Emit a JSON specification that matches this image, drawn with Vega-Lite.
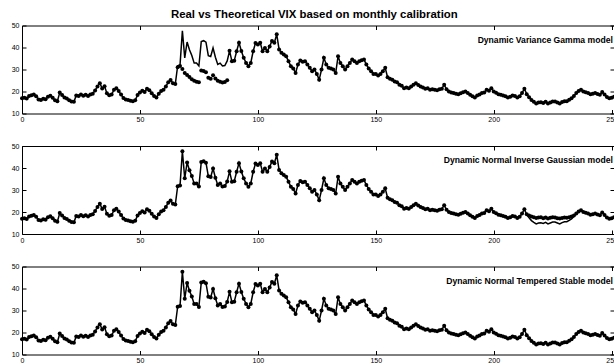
{
"$schema": "https://vega.github.io/schema/vega-lite/v6.json",
"padding": {"left": 10, "top": 8.5, "right": 0, "bottom": 0},
"title": {"text": "Real vs Theoretical VIX based on monthly calibration", "font": "Liberation Sans", "fontSize": 11.4, "fontWeight": "bold", "color": "black", "offset": 0.6, "anchor": "middle"},
"data": {"values": [
{"t":0,"real":16.9,"vg":16.9,"nig":16.9,"nts":16.9},
{"t":1,"real":17.2,"vg":17.2,"nig":17.2,"nts":17.2},
{"t":2,"real":16.8,"vg":16.8,"nig":16.8,"nts":16.8},
{"t":3,"real":17.9,"vg":17.9,"nig":17.9,"nts":17.9},
{"t":4,"real":18.3,"vg":18.3,"nig":18.3,"nts":18.3},
{"t":5,"real":18.6,"vg":18.6,"nig":18.6,"nts":18.6},
{"t":6,"real":17.8,"vg":17.8,"nig":17.8,"nts":17.8},
{"t":7,"real":16.4,"vg":16.4,"nig":16.4,"nts":16.4},
{"t":8,"real":16.1,"vg":16.1,"nig":16.1,"nts":16.1},
{"t":9,"real":16.7,"vg":16.7,"nig":16.7,"nts":16.7},
{"t":10,"real":16.5,"vg":16.5,"nig":16.5,"nts":16.5},
{"t":11,"real":17.6,"vg":17.6,"nig":17.6,"nts":17.6},
{"t":12,"real":18.1,"vg":18.1,"nig":18.1,"nts":18.1},
{"t":13,"real":17.2,"vg":17.2,"nig":17.2,"nts":17.2},
{"t":14,"real":16.0,"vg":16.0,"nig":16.0,"nts":16.0},
{"t":15,"real":15.6,"vg":15.6,"nig":15.6,"nts":15.6},
{"t":16,"real":19.5,"vg":19.5,"nig":19.5,"nts":19.5},
{"t":17,"real":18.4,"vg":18.4,"nig":18.4,"nts":18.4},
{"t":18,"real":17.3,"vg":17.3,"nig":17.3,"nts":17.3},
{"t":19,"real":16.8,"vg":16.8,"nig":16.8,"nts":16.8},
{"t":20,"real":16.0,"vg":16.0,"nig":16.0,"nts":16.0},
{"t":21,"real":15.5,"vg":15.5,"nig":15.5,"nts":15.5},
{"t":22,"real":15.3,"vg":15.3,"nig":15.3,"nts":15.3},
{"t":23,"real":18.2,"vg":18.2,"nig":18.2,"nts":18.2},
{"t":24,"real":18.0,"vg":18.0,"nig":18.0,"nts":18.0},
{"t":25,"real":18.6,"vg":18.6,"nig":18.6,"nts":18.6},
{"t":26,"real":18.1,"vg":18.1,"nig":18.1,"nts":18.1},
{"t":27,"real":18.5,"vg":18.5,"nig":18.5,"nts":18.5},
{"t":28,"real":17.9,"vg":17.9,"nig":17.9,"nts":17.9},
{"t":29,"real":18.6,"vg":18.6,"nig":18.6,"nts":18.6},
{"t":30,"real":19.0,"vg":19.0,"nig":19.0,"nts":19.0},
{"t":31,"real":20.5,"vg":20.5,"nig":20.5,"nts":20.5},
{"t":32,"real":22.3,"vg":22.3,"nig":22.3,"nts":22.3},
{"t":33,"real":23.8,"vg":23.8,"nig":23.8,"nts":23.8},
{"t":34,"real":21.4,"vg":21.4,"nig":21.4,"nts":21.4},
{"t":35,"real":22.4,"vg":22.4,"nig":22.4,"nts":22.4},
{"t":36,"real":19.2,"vg":19.2,"nig":19.2,"nts":19.2},
{"t":37,"real":18.3,"vg":18.3,"nig":18.3,"nts":18.3},
{"t":38,"real":18.6,"vg":18.6,"nig":18.6,"nts":18.6},
{"t":39,"real":20.8,"vg":20.8,"nig":20.8,"nts":20.8},
{"t":40,"real":21.5,"vg":21.5,"nig":21.5,"nts":21.5},
{"t":41,"real":20.2,"vg":20.2,"nig":20.2,"nts":20.2},
{"t":42,"real":18.6,"vg":18.6,"nig":18.6,"nts":18.6},
{"t":43,"real":17.1,"vg":17.1,"nig":17.1,"nts":17.1},
{"t":44,"real":16.4,"vg":16.4,"nig":16.4,"nts":16.4},
{"t":45,"real":16.1,"vg":16.1,"nig":16.1,"nts":16.1},
{"t":46,"real":15.8,"vg":15.8,"nig":15.8,"nts":15.8},
{"t":47,"real":15.6,"vg":15.6,"nig":15.6,"nts":15.6},
{"t":48,"real":16.0,"vg":16.0,"nig":16.0,"nts":16.0},
{"t":49,"real":18.4,"vg":18.4,"nig":18.4,"nts":18.4},
{"t":50,"real":19.5,"vg":19.5,"nig":19.5,"nts":19.5},
{"t":51,"real":20.3,"vg":20.3,"nig":20.3,"nts":20.3},
{"t":52,"real":19.8,"vg":19.8,"nig":19.8,"nts":19.8},
{"t":53,"real":21.3,"vg":21.3,"nig":21.3,"nts":21.3},
{"t":54,"real":20.6,"vg":20.6,"nig":20.6,"nts":20.6},
{"t":55,"real":19.2,"vg":19.2,"nig":19.2,"nts":19.2},
{"t":56,"real":17.9,"vg":17.9,"nig":17.9,"nts":17.9},
{"t":57,"real":17.3,"vg":17.3,"nig":17.3,"nts":17.3},
{"t":58,"real":19.0,"vg":19.0,"nig":19.0,"nts":19.0},
{"t":59,"real":20.2,"vg":20.2,"nig":20.2,"nts":20.2},
{"t":60,"real":20.8,"vg":20.8,"nig":20.8,"nts":20.8},
{"t":61,"real":22.3,"vg":22.3,"nig":22.3,"nts":22.3},
{"t":62,"real":24.2,"vg":24.2,"nig":24.2,"nts":24.2},
{"t":63,"real":25.2,"vg":25.2,"nig":25.2,"nts":25.2},
{"t":64,"real":23.8,"vg":23.8,"nig":23.8,"nts":23.8},
{"t":65,"real":23.4,"vg":23.4,"nig":23.4,"nts":23.4},
{"t":66,"real":31.7,"vg":31.0,"nig":31.7,"nts":31.7},
{"t":67,"real":32.0,"vg":31.6,"nig":32.0,"nts":32.0},
{"t":68,"real":47.6,"vg":30.2,"nig":47.6,"nts":47.6},
{"t":69,"real":35.3,"vg":28.4,"nig":35.3,"nts":35.3},
{"t":70,"real":42.5,"vg":27.5,"nig":42.5,"nts":42.5},
{"t":71,"real":39.0,"vg":26.6,"nig":39.0,"nts":39.0},
{"t":72,"real":36.4,"vg":25.6,"nig":36.4,"nts":36.4},
{"t":73,"real":32.9,"vg":24.9,"nig":32.9,"nts":32.9},
{"t":74,"real":32.9,"vg":24.4,"nig":32.9,"nts":32.9},
{"t":75,"real":31.6,"vg":24.2,"nig":31.6,"nts":31.6},
{"t":76,"real":42.7,"vg":29.5,"nig":42.7,"nts":42.7},
{"t":77,"real":43.1,"vg":29.3,"nig":43.1,"nts":43.1},
{"t":78,"real":42.4,"vg":28.8,"nig":42.4,"nts":42.4},
{"t":79,"real":36.3,"vg":26.2,"nig":36.3,"nts":36.3},
{"t":80,"real":35.9,"vg":25.8,"nig":35.9,"nts":35.9},
{"t":81,"real":39.8,"vg":27.4,"nig":39.8,"nts":39.8},
{"t":82,"real":35.6,"vg":25.9,"nig":35.6,"nts":35.6},
{"t":83,"real":32.3,"vg":24.9,"nig":32.3,"nts":32.3},
{"t":84,"real":32.9,"vg":24.4,"nig":32.9,"nts":32.9},
{"t":85,"real":31.6,"vg":24.1,"nig":31.6,"nts":31.6},
{"t":86,"real":31.8,"vg":24.3,"nig":31.8,"nts":31.8},
{"t":87,"real":33.9,"vg":25.1,"nig":33.9,"nts":33.9},
{"t":88,"real":38.5,"vg":38.5,"nig":38.5,"nts":38.5},
{"t":89,"real":33.8,"vg":33.8,"nig":33.8,"nts":33.8},
{"t":90,"real":34.0,"vg":34.0,"nig":34.0,"nts":34.0},
{"t":91,"real":38.3,"vg":38.3,"nig":38.3,"nts":38.3},
{"t":92,"real":42.2,"vg":42.2,"nig":42.2,"nts":42.2},
{"t":93,"real":38.4,"vg":38.4,"nig":38.4,"nts":38.4},
{"t":94,"real":35.3,"vg":35.3,"nig":35.3,"nts":35.3},
{"t":95,"real":33.0,"vg":33.0,"nig":33.0,"nts":33.0},
{"t":96,"real":31.5,"vg":31.5,"nig":31.5,"nts":31.5},
{"t":97,"real":33.0,"vg":33.0,"nig":33.0,"nts":33.0},
{"t":98,"real":38.3,"vg":38.3,"nig":38.3,"nts":38.3},
{"t":99,"real":42.0,"vg":42.0,"nig":42.0,"nts":42.0},
{"t":100,"real":41.4,"vg":41.4,"nig":41.4,"nts":41.4},
{"t":101,"real":42.2,"vg":42.2,"nig":42.2,"nts":42.2},
{"t":102,"real":38.3,"vg":38.3,"nig":38.3,"nts":38.3},
{"t":103,"real":39.8,"vg":39.8,"nig":39.8,"nts":39.8},
{"t":104,"real":38.3,"vg":38.3,"nig":38.3,"nts":38.3},
{"t":105,"real":40.5,"vg":40.5,"nig":40.5,"nts":40.5},
{"t":106,"real":43.0,"vg":43.0,"nig":43.0,"nts":43.0},
{"t":107,"real":42.2,"vg":42.2,"nig":42.2,"nts":42.2},
{"t":108,"real":46.0,"vg":46.0,"nig":46.0,"nts":46.0},
{"t":109,"real":39.1,"vg":39.1,"nig":39.1,"nts":39.1},
{"t":110,"real":37.6,"vg":37.6,"nig":37.6,"nts":37.6},
{"t":111,"real":36.8,"vg":36.8,"nig":36.8,"nts":36.8},
{"t":112,"real":36.0,"vg":36.0,"nig":36.0,"nts":36.0},
{"t":113,"real":33.8,"vg":33.8,"nig":33.8,"nts":33.8},
{"t":114,"real":31.5,"vg":31.5,"nig":31.5,"nts":31.5},
{"t":115,"real":30.5,"vg":30.5,"nig":30.5,"nts":30.5},
{"t":116,"real":28.4,"vg":28.4,"nig":28.4,"nts":28.4},
{"t":117,"real":32.3,"vg":32.3,"nig":32.3,"nts":32.3},
{"t":118,"real":34.1,"vg":34.1,"nig":34.1,"nts":34.1},
{"t":119,"real":33.5,"vg":33.5,"nig":33.5,"nts":33.5},
{"t":120,"real":33.8,"vg":33.8,"nig":33.8,"nts":33.8},
{"t":121,"real":32.3,"vg":32.3,"nig":32.3,"nts":32.3},
{"t":122,"real":30.8,"vg":30.8,"nig":30.8,"nts":30.8},
{"t":123,"real":29.2,"vg":29.2,"nig":29.2,"nts":29.2},
{"t":124,"real":30.0,"vg":30.0,"nig":30.0,"nts":30.0},
{"t":125,"real":28.0,"vg":28.0,"nig":28.0,"nts":28.0},
{"t":126,"real":25.3,"vg":25.3,"nig":25.3,"nts":25.3},
{"t":127,"real":30.0,"vg":30.0,"nig":30.0,"nts":30.0},
{"t":128,"real":35.3,"vg":35.3,"nig":35.3,"nts":35.3},
{"t":129,"real":32.3,"vg":32.3,"nig":32.3,"nts":32.3},
{"t":130,"real":30.8,"vg":30.8,"nig":30.8,"nts":30.8},
{"t":131,"real":30.5,"vg":30.5,"nig":30.5,"nts":30.5},
{"t":132,"real":30.0,"vg":30.0,"nig":30.0,"nts":30.0},
{"t":133,"real":28.4,"vg":28.4,"nig":28.4,"nts":28.4},
{"t":134,"real":36.0,"vg":36.0,"nig":36.0,"nts":36.0},
{"t":135,"real":33.0,"vg":33.0,"nig":33.0,"nts":33.0},
{"t":136,"real":31.5,"vg":31.5,"nig":31.5,"nts":31.5},
{"t":137,"real":30.0,"vg":30.0,"nig":30.0,"nts":30.0},
{"t":138,"real":31.5,"vg":31.5,"nig":31.5,"nts":31.5},
{"t":139,"real":33.0,"vg":33.0,"nig":33.0,"nts":33.0},
{"t":140,"real":34.5,"vg":34.5,"nig":34.5,"nts":34.5},
{"t":141,"real":33.8,"vg":33.8,"nig":33.8,"nts":33.8},
{"t":142,"real":33.0,"vg":33.0,"nig":33.0,"nts":33.0},
{"t":143,"real":33.8,"vg":33.8,"nig":33.8,"nts":33.8},
{"t":144,"real":34.2,"vg":34.2,"nig":34.2,"nts":34.2},
{"t":145,"real":34.5,"vg":34.5,"nig":34.5,"nts":34.5},
{"t":146,"real":32.3,"vg":32.3,"nig":32.3,"nts":32.3},
{"t":147,"real":30.5,"vg":30.5,"nig":30.5,"nts":30.5},
{"t":148,"real":29.2,"vg":29.2,"nig":29.2,"nts":29.2},
{"t":149,"real":28.0,"vg":28.0,"nig":28.0,"nts":28.0},
{"t":150,"real":27.9,"vg":27.9,"nig":27.9,"nts":27.9},
{"t":151,"real":27.3,"vg":27.3,"nig":27.3,"nts":27.3},
{"t":152,"real":28.0,"vg":28.0,"nig":28.0,"nts":28.0},
{"t":153,"real":29.2,"vg":29.2,"nig":29.2,"nts":29.2},
{"t":154,"real":30.8,"vg":30.8,"nig":30.8,"nts":30.8},
{"t":155,"real":26.5,"vg":26.5,"nig":26.5,"nts":26.5},
{"t":156,"real":25.8,"vg":25.8,"nig":25.8,"nts":25.8},
{"t":157,"real":25.3,"vg":25.3,"nig":25.3,"nts":25.3},
{"t":158,"real":24.6,"vg":24.6,"nig":24.6,"nts":24.6},
{"t":159,"real":24.2,"vg":24.2,"nig":24.2,"nts":24.2},
{"t":160,"real":23.1,"vg":23.1,"nig":23.1,"nts":23.1},
{"t":161,"real":22.6,"vg":22.6,"nig":22.6,"nts":22.6},
{"t":162,"real":21.5,"vg":21.5,"nig":21.5,"nts":21.5},
{"t":163,"real":21.8,"vg":21.8,"nig":21.8,"nts":21.8},
{"t":164,"real":21.5,"vg":21.5,"nig":21.5,"nts":21.5},
{"t":165,"real":22.3,"vg":22.3,"nig":22.3,"nts":22.3},
{"t":166,"real":23.1,"vg":23.1,"nig":23.1,"nts":23.1},
{"t":167,"real":23.8,"vg":23.8,"nig":23.8,"nts":23.8},
{"t":168,"real":23.0,"vg":23.0,"nig":23.0,"nts":23.0},
{"t":169,"real":22.3,"vg":22.3,"nig":22.3,"nts":22.3},
{"t":170,"real":21.8,"vg":21.8,"nig":21.8,"nts":21.8},
{"t":171,"real":21.3,"vg":21.3,"nig":21.3,"nts":21.3},
{"t":172,"real":21.5,"vg":21.5,"nig":21.5,"nts":21.5},
{"t":173,"real":20.8,"vg":20.8,"nig":20.8,"nts":20.8},
{"t":174,"real":21.0,"vg":21.0,"nig":21.0,"nts":21.0},
{"t":175,"real":20.8,"vg":20.8,"nig":20.8,"nts":20.8},
{"t":176,"real":20.6,"vg":20.6,"nig":20.6,"nts":20.6},
{"t":177,"real":21.0,"vg":21.0,"nig":21.0,"nts":21.0},
{"t":178,"real":21.3,"vg":21.3,"nig":21.3,"nts":21.3},
{"t":179,"real":23.1,"vg":23.1,"nig":23.1,"nts":23.1},
{"t":180,"real":21.0,"vg":21.0,"nig":21.0,"nts":21.0},
{"t":181,"real":20.0,"vg":20.0,"nig":20.0,"nts":20.0},
{"t":182,"real":19.6,"vg":19.6,"nig":19.6,"nts":19.6},
{"t":183,"real":19.3,"vg":19.3,"nig":19.3,"nts":19.3},
{"t":184,"real":19.0,"vg":19.0,"nig":19.0,"nts":19.0},
{"t":185,"real":18.8,"vg":18.8,"nig":18.8,"nts":18.8},
{"t":186,"real":19.2,"vg":19.2,"nig":19.2,"nts":19.2},
{"t":187,"real":19.7,"vg":19.7,"nig":19.7,"nts":19.7},
{"t":188,"real":20.0,"vg":20.0,"nig":20.0,"nts":20.0},
{"t":189,"real":19.3,"vg":19.3,"nig":19.3,"nts":19.3},
{"t":190,"real":18.5,"vg":18.5,"nig":18.5,"nts":18.5},
{"t":191,"real":17.8,"vg":17.8,"nig":17.8,"nts":17.8},
{"t":192,"real":17.3,"vg":17.3,"nig":17.3,"nts":17.3},
{"t":193,"real":18.2,"vg":18.2,"nig":18.2,"nts":18.2},
{"t":194,"real":18.6,"vg":18.6,"nig":18.6,"nts":18.6},
{"t":195,"real":19.3,"vg":19.3,"nig":19.3,"nts":19.3},
{"t":196,"real":19.6,"vg":19.6,"nig":19.6,"nts":19.6},
{"t":197,"real":20.8,"vg":20.8,"nig":20.8,"nts":20.8},
{"t":198,"real":20.3,"vg":20.3,"nig":20.3,"nts":20.3},
{"t":199,"real":21.5,"vg":21.5,"nig":21.5,"nts":21.5},
{"t":200,"real":20.0,"vg":20.0,"nig":20.0,"nts":20.0},
{"t":201,"real":19.4,"vg":19.4,"nig":19.4,"nts":19.4},
{"t":202,"real":18.8,"vg":18.8,"nig":18.8,"nts":18.8},
{"t":203,"real":18.5,"vg":18.5,"nig":18.5,"nts":18.5},
{"t":204,"real":18.2,"vg":18.2,"nig":18.2,"nts":18.2},
{"t":205,"real":17.8,"vg":17.8,"nig":17.8,"nts":17.8},
{"t":206,"real":17.3,"vg":17.3,"nig":17.3,"nts":17.3},
{"t":207,"real":17.6,"vg":17.6,"nig":17.6,"nts":17.6},
{"t":208,"real":18.2,"vg":18.2,"nig":18.2,"nts":18.2},
{"t":209,"real":17.9,"vg":17.9,"nig":17.9,"nts":17.9},
{"t":210,"real":17.3,"vg":17.3,"nig":17.3,"nts":17.3},
{"t":211,"real":17.8,"vg":17.8,"nig":17.8,"nts":17.8},
{"t":212,"real":19.3,"vg":19.3,"nig":19.3,"nts":19.3},
{"t":213,"real":21.3,"vg":21.3,"nig":21.3,"nts":21.3},
{"t":214,"real":18.8,"vg":18.8,"nig":19.0,"nts":18.8},
{"t":215,"real":17.4,"vg":17.4,"nig":18.4,"nts":17.4},
{"t":216,"real":16.1,"vg":16.1,"nig":17.9,"nts":16.1},
{"t":217,"real":15.3,"vg":15.3,"nig":17.6,"nts":15.3},
{"t":218,"real":14.6,"vg":14.6,"nig":17.3,"nts":14.6},
{"t":219,"real":15.0,"vg":15.0,"nig":17.5,"nts":15.0},
{"t":220,"real":15.1,"vg":15.1,"nig":17.6,"nts":15.1},
{"t":221,"real":14.8,"vg":14.8,"nig":17.2,"nts":14.8},
{"t":222,"real":15.3,"vg":15.3,"nig":17.5,"nts":15.3},
{"t":223,"real":14.6,"vg":14.6,"nig":17.1,"nts":14.6},
{"t":224,"real":15.0,"vg":15.0,"nig":17.4,"nts":15.0},
{"t":225,"real":15.4,"vg":15.4,"nig":17.6,"nts":15.4},
{"t":226,"real":15.4,"vg":15.4,"nig":17.5,"nts":15.4},
{"t":227,"real":15.0,"vg":15.0,"nig":17.2,"nts":15.0},
{"t":228,"real":14.6,"vg":14.6,"nig":17.0,"nts":14.6},
{"t":229,"real":15.2,"vg":15.2,"nig":17.3,"nts":15.2},
{"t":230,"real":15.6,"vg":15.6,"nig":17.5,"nts":15.6},
{"t":231,"real":15.6,"vg":15.6,"nig":17.4,"nts":15.6},
{"t":232,"real":16.2,"vg":16.2,"nig":17.6,"nts":16.2},
{"t":233,"real":16.9,"vg":16.9,"nig":17.9,"nts":16.9},
{"t":234,"real":18.0,"vg":18.0,"nig":18.4,"nts":18.0},
{"t":235,"real":19.3,"vg":19.3,"nig":19.3,"nts":19.3},
{"t":236,"real":20.2,"vg":20.2,"nig":20.2,"nts":20.2},
{"t":237,"real":20.8,"vg":20.8,"nig":20.8,"nts":20.8},
{"t":238,"real":20.0,"vg":20.0,"nig":20.0,"nts":20.0},
{"t":239,"real":19.7,"vg":19.7,"nig":19.7,"nts":19.7},
{"t":240,"real":19.3,"vg":19.3,"nig":19.3,"nts":19.3},
{"t":241,"real":18.8,"vg":18.8,"nig":18.8,"nts":18.8},
{"t":242,"real":19.0,"vg":19.0,"nig":19.0,"nts":19.0},
{"t":243,"real":19.3,"vg":19.3,"nig":19.3,"nts":19.3},
{"t":244,"real":18.9,"vg":18.9,"nig":18.9,"nts":18.9},
{"t":245,"real":18.5,"vg":18.5,"nig":18.5,"nts":18.5},
{"t":246,"real":19.8,"vg":19.8,"nig":19.8,"nts":19.8},
{"t":247,"real":18.6,"vg":18.6,"nig":18.6,"nts":18.6},
{"t":248,"real":17.5,"vg":17.5,"nig":17.5,"nts":17.5},
{"t":249,"real":16.9,"vg":16.9,"nig":16.9,"nts":16.9},
{"t":250,"real":17.2,"vg":17.2,"nig":17.2,"nts":17.2},
{"t":251,"real":17.6,"vg":17.6,"nig":17.6,"nts":17.6}
]},
"spacing": 17.5,
"vconcat": [
{"width": 592, "height": 88, "layer": [
 {"mark": {"type": "line", "color": "black", "strokeWidth": 1.5}, "encoding": {
   "x": {"field": "t", "type": "quantitative", "scale": {"domain": [0, 251], "nice": false, "zero": false}, "axis": {"orient": "bottom", "title": null, "values": [0, 50, 100, 150, 200, 250], "labelFlush": false, "labelOverlap": false, "tickSize": -4, "labelPadding": 6}},
   "y": {"field": "real", "type": "quantitative", "scale": {"domain": [10, 50], "nice": false, "zero": false}, "axis": {"orient": "left", "title": null, "values": [10, 20, 30, 40, 50], "labelOverlap": false, "tickSize": -4, "labelPadding": 7}}}},
 {"mark": {"type": "point", "filled": true, "color": "black", "size": 16, "opacity": 1}, "encoding": {
   "x": {"field": "t", "type": "quantitative", "scale": {"domain": [0, 251], "nice": false, "zero": false}, "axis": {"orient": "top", "title": null, "labels": false, "values": [0, 50, 100, 150, 200, 250], "tickSize": -4}},
   "y": {"field": "vg", "type": "quantitative", "scale": {"domain": [10, 50], "nice": false, "zero": false}, "axis": {"orient": "right", "title": null, "labels": false, "values": [10, 20, 30, 40, 50], "tickSize": -4}}}},
 {"data": {"values": [{"label": "Dynamic Variance Gamma model"}]}, "mark": {"type": "text", "align": "right", "baseline": "middle", "font": "Liberation Sans", "fontWeight": "bold", "fontSize": 8.6, "color": "black"}, "encoding": {
   "x": {"datum": 250.5, "type": "quantitative", "axis": null},
   "y": {"datum": 43.6, "type": "quantitative", "axis": null},
   "text": {"field": "label"}}}
]},
{"width": 592, "height": 88, "layer": [
 {"mark": {"type": "line", "color": "black", "strokeWidth": 1.5}, "encoding": {
   "x": {"field": "t", "type": "quantitative", "scale": {"domain": [0, 251], "nice": false, "zero": false}, "axis": {"orient": "bottom", "title": null, "values": [0, 50, 100, 150, 200, 250], "labelFlush": false, "labelOverlap": false, "tickSize": -4, "labelPadding": 6}},
   "y": {"field": "real", "type": "quantitative", "scale": {"domain": [10, 50], "nice": false, "zero": false}, "axis": {"orient": "left", "title": null, "values": [10, 20, 30, 40, 50], "labelOverlap": false, "tickSize": -4, "labelPadding": 7}}}},
 {"mark": {"type": "point", "filled": true, "color": "black", "size": 16, "opacity": 1}, "encoding": {
   "x": {"field": "t", "type": "quantitative", "scale": {"domain": [0, 251], "nice": false, "zero": false}, "axis": {"orient": "top", "title": null, "labels": false, "values": [0, 50, 100, 150, 200, 250], "tickSize": -4}},
   "y": {"field": "nig", "type": "quantitative", "scale": {"domain": [10, 50], "nice": false, "zero": false}, "axis": {"orient": "right", "title": null, "labels": false, "values": [10, 20, 30, 40, 50], "tickSize": -4}}}},
 {"data": {"values": [{"label": "Dynamic Normal Inverse Gaussian model"}]}, "mark": {"type": "text", "align": "right", "baseline": "middle", "font": "Liberation Sans", "fontWeight": "bold", "fontSize": 8.6, "color": "black"}, "encoding": {
   "x": {"datum": 250.5, "type": "quantitative", "axis": null},
   "y": {"datum": 43.6, "type": "quantitative", "axis": null},
   "text": {"field": "label"}}}
]},
{"width": 592, "height": 88, "layer": [
 {"mark": {"type": "line", "color": "black", "strokeWidth": 1.5}, "encoding": {
   "x": {"field": "t", "type": "quantitative", "scale": {"domain": [0, 251], "nice": false, "zero": false}, "axis": {"orient": "bottom", "title": null, "values": [0, 50, 100, 150, 200, 250], "labelFlush": false, "labelOverlap": false, "tickSize": -4, "labelPadding": 6}},
   "y": {"field": "real", "type": "quantitative", "scale": {"domain": [10, 50], "nice": false, "zero": false}, "axis": {"orient": "left", "title": null, "values": [10, 20, 30, 40, 50], "labelOverlap": false, "tickSize": -4, "labelPadding": 7}}}},
 {"mark": {"type": "point", "filled": true, "color": "black", "size": 16, "opacity": 1}, "encoding": {
   "x": {"field": "t", "type": "quantitative", "scale": {"domain": [0, 251], "nice": false, "zero": false}, "axis": {"orient": "top", "title": null, "labels": false, "values": [0, 50, 100, 150, 200, 250], "tickSize": -4}},
   "y": {"field": "nts", "type": "quantitative", "scale": {"domain": [10, 50], "nice": false, "zero": false}, "axis": {"orient": "right", "title": null, "labels": false, "values": [10, 20, 30, 40, 50], "tickSize": -4}}}},
 {"data": {"values": [{"label": "Dynamic Normal Tempered Stable model"}]}, "mark": {"type": "text", "align": "right", "baseline": "middle", "font": "Liberation Sans", "fontWeight": "bold", "fontSize": 8.6, "color": "black"}, "encoding": {
   "x": {"datum": 250.5, "type": "quantitative", "axis": null},
   "y": {"datum": 43.6, "type": "quantitative", "axis": null},
   "text": {"field": "label"}}}
]}
],
"config": {
 "background": "white",
 "view": {"stroke": "black", "strokeWidth": 1},
 "axis": {"domain": false, "grid": false, "labelFont": "Liberation Sans", "labelFontSize": 7, "labelColor": "black", "tickColor": "black", "tickWidth": 1}
}
}
